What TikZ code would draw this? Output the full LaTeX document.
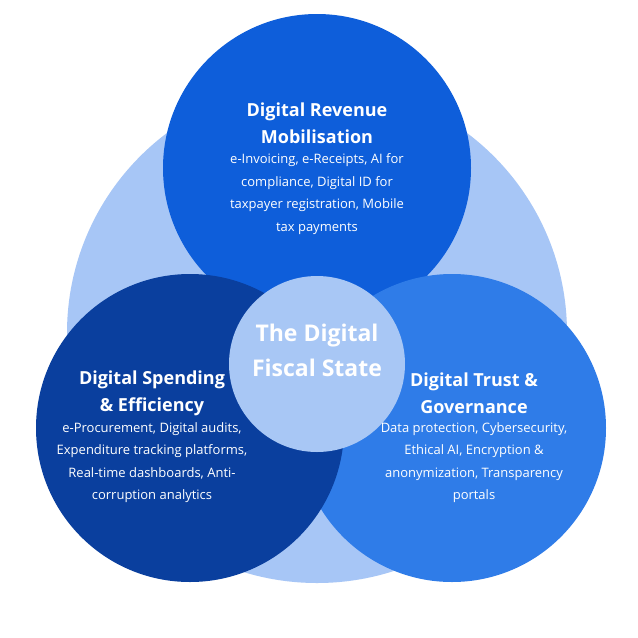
\documentclass[tikz,border=0pt]{standalone}
\usepackage{fontspec}
\setmainfont{Open Sans}
\begin{document}
\begin{tikzpicture}[x=1pt,y=-1pt,
  circ/.style={circle,draw=none,minimum size=#1,inner sep=0pt},
  ttl/.style={text=white,font=\fontsize{18}{27}\selectfont\bfseries,align=center},
  body/.style={text=white,font=\fontsize{13}{22.5}\selectfont,align=center}]
\useasboundingbox (0,0) rectangle (638,638);
\fill[white] (0,0) rectangle (638,638);
\node[circ=500pt,fill={rgb,255:red,167;green,198;blue,246}] (bg) at (317,333) {};
\node[circ=308pt,fill={rgb,255:red,14;green,94;blue,218}] (top) at (317,168) {};
\node[circ=308pt,fill={rgb,255:red,47;green,124;blue,232}] (right) at (452,428) {};
\node[circ=308pt,fill={rgb,255:red,10;green,63;blue,158}] (left) at (190,428) {};
\node[circ=176pt,fill={rgb,255:red,168;green,199;blue,245}] (mid) at (317,364) {};
\node[ttl] (tt) at (317,123.5) {Digital Revenue\\Mobilisation};
\node[body] (tb) at (317,194) {e-Invoicing, e-Receipts, AI for\\compliance, Digital ID for\\taxpayer registration, Mobile\\tax payments};
\node[ttl] (lt) at (152,393.5) {Digital Spending\\\& Efficiency};
\node[body] (lb) at (152,462.5) {e-Procurement, Digital audits,\\Expenditure tracking platforms,\\Real-time dashboards, Anti-\\corruption analytics};
\node[ttl] (rt) at (474,393.5) {Digital Trust \&\\Governance};
\node[body] (rb) at (474,462.5) {Data protection, Cybersecurity,\\Ethical AI, Encryption \&\\anonymization, Transparency\\portals};
\node[text=white,font=\fontsize{23}{35}\selectfont\bfseries,align=center] (mt) at (317,350.5) {The Digital\\Fiscal State};
\end{tikzpicture}
\end{document}
